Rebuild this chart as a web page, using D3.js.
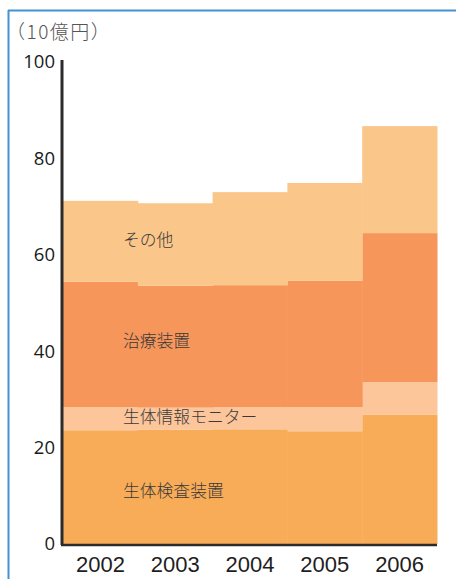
<!DOCTYPE html>
<html>
<head>
<meta charset="utf-8">
<script src="https://cdn.jsdelivr.net/npm/d3@7"></script>
<style>
  html, body { margin: 0; padding: 0; background: #fff; }
  svg { display: block; }
</style>
</head>
<body>
<svg id="chart" width="456" height="579"></svg>
<script>
// Medical equipment market by segment (unit: 10 billion yen)
const years = ["2002", "2003", "2004", "2005", "2006"];
const inspection = [23.6, 23.7, 23.8, 23.4, 26.8];   // 生体検査装置
const monitors   = [4.8, 4.6, 4.6, 5.0, 6.8];        // 生体情報モニター
const treatment  = [26.0, 25.3, 25.3, 26.2, 30.9];   // 治療装置
const others     = [16.8, 17.1, 19.3, 20.3, 22.2];   // その他
const seriesNames = ["生体検査装置", "生体情報モニター", "治療装置", "その他"];
const seriesColors = ["#F8AC58", "#FCC59A", "#F6965A", "#FBC689"];
const yTicks = [0, 20, 40, 60, 80, 100];
const unitLabel = "（10億円）";

const rows = years.map((y, i) => ({
  year: y,
  "生体検査装置": inspection[i],
  "生体情報モニター": monitors[i],
  "治療装置": treatment[i],
  "その他": others[i]
}));

const svg = d3.select("#chart");
const margin = { left: 63, right: 19, top: 62, bottom: 35 };
const W = 456, H = 579;

// frame lines (top and left)
svg.append("line").attr("x1", 8).attr("x2", W).attr("y1", 10.5).attr("y2", 10.5)
  .attr("stroke", "#4592d2").attr("stroke-width", 2);
svg.append("line").attr("x1", 8.5).attr("x2", 8.5).attr("y1", 10).attr("y2", H)
  .attr("stroke", "#4592d2").attr("stroke-width", 2);

const x = d3.scaleBand().domain(years).range([margin.left, W - margin.right]).padding(0);
const y = d3.scaleLinear().domain([0, 100]).range([H - margin.bottom, margin.top]);

const stack = d3.stack().keys(seriesNames);
const layers = stack(rows);

svg.append("g").selectAll("g")
  .data(layers)
  .join("g")
  .attr("fill", (d, i) => seriesColors[i])
  .selectAll("rect")
  .data(d => d)
  .join("rect")
  .attr("x", d => x(d.data.year))
  .attr("width", x.bandwidth() + 0.5)
  .attr("y", d => y(d[1]))
  .attr("height", d => y(d[0]) - y(d[1]));

// y axis
const yAxis = svg.append("g")
  .attr("transform", `translate(${margin.left - 1},0)`)
  .call(d3.axisLeft(y).tickValues(yTicks).tickSize(0).tickPadding(7));
yAxis.select(".domain").remove();
yAxis.selectAll("text")
  .attr("font-family", "'Open Sans', 'Noto Sans', sans-serif")
  .attr("font-size", 18.5)
  .attr("fill", "#1a1a1a");
svg.append("line")
  .attr("x1", margin.left - 1).attr("x2", margin.left - 1)
  .attr("y1", y(100) - 2).attr("y2", y(0) + 1)
  .attr("stroke", "#2b2b2b").attr("stroke-width", 3);

// x axis
const xAxis = svg.append("g")
  .attr("transform", `translate(0,${y(0)})`)
  .call(d3.axisBottom(x).tickSize(0).tickPadding(12));
xAxis.select(".domain").remove();
xAxis.selectAll("text")
  .attr("font-family", "'Liberation Sans', Arial, sans-serif")
  .attr("font-size", 22)
  .attr("fill", "#1e1e1e");
svg.append("line")
  .attr("x1", margin.left - 2).attr("x2", W - margin.right)
  .attr("y1", y(0) + 1).attr("y2", y(0) + 1)
  .attr("stroke", "#2b2b2b").attr("stroke-width", 2.5);

// unit label
svg.append("text")
  .attr("x", 6).attr("y", 39)
  .attr("font-family", "'Noto Sans CJK JP', sans-serif")
  .attr("font-weight", 300)
  .attr("font-size", 19)
  .attr("letter-spacing", 1.5)
  .attr("fill", "#555")
  .text(unitLabel);

// series labels, placed in the middle of each band of the first bar
const labelX = 123;
const labelY = [491, 417, 341, 240];
seriesNames.forEach((name, i) => {
  svg.append("text")
    .attr("x", labelX).attr("y", labelY[i])
    .attr("dy", "0.35em")
    .attr("font-family", "'Noto Sans CJK JP', sans-serif")
    .attr("font-weight", 300)
    .attr("font-size", 16.8)
    .attr("fill", "#3a3a3a")
    .text(name);
});
</script>
</body>
</html>
